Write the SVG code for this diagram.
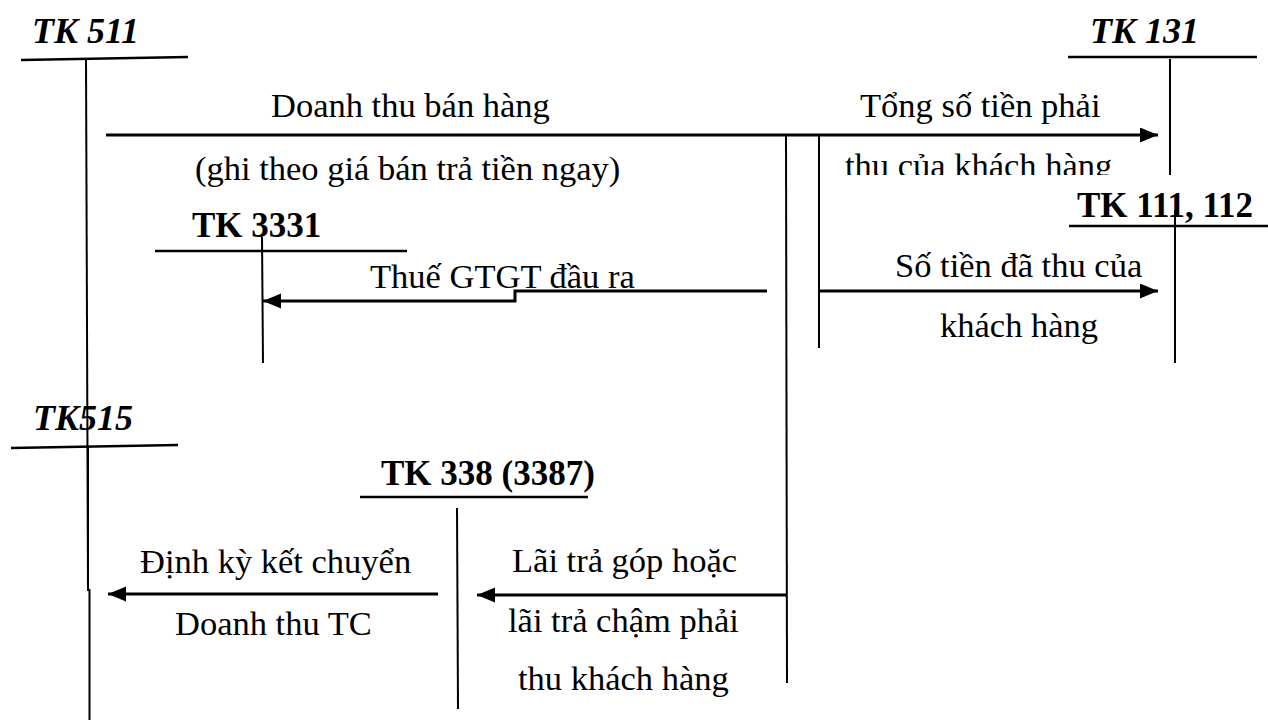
<svg xmlns="http://www.w3.org/2000/svg" width="1268" height="724" viewBox="0 0 1268 724">
<style>
.t{font-family:"Liberation Serif","Times New Roman",serif;font-size:34.5px;fill:#000}
.bi{font-family:"Liberation Serif","Times New Roman",serif;font-size:36px;font-weight:bold;font-style:italic;fill:#000}
.b{font-family:"Liberation Serif","Times New Roman",serif;font-size:35px;font-weight:bold;fill:#000}
.ln{stroke:#000;stroke-width:2.5;fill:none}
.v{stroke:#000;stroke-width:2;fill:none}
.ar{stroke:#000;stroke-width:3;fill:none}
</style>
<defs>
<marker id="ah" markerUnits="userSpaceOnUse" markerWidth="20" markerHeight="16" refX="18" refY="7.5" orient="auto">
<path d="M0,0 L18,7.5 L0,15 z" fill="#000"/>
</marker>
<clipPath id="clip131"><rect x="0" y="0" width="1268" height="175"/></clipPath>
</defs>
<rect width="1268" height="724" fill="#fff"/>

<g id="tk511">
<text class="bi" x="32" y="43">TK 511</text>
<line class="ln" x1="21" y1="60" x2="188" y2="57"/>
<line class="v" x1="86" y1="58" x2="88" y2="590"/>
</g>

<g id="tk131">
<text class="bi" x="1090" y="43">TK 131</text>
<line class="ln" x1="1068" y1="57" x2="1257" y2="57"/>
<line class="v" x1="1170" y1="59" x2="1170" y2="175"/>
</g>

<g id="tk3331">
<text class="b" x="192" y="237">TK 3331</text>
<line class="ln" x1="155" y1="251" x2="407" y2="251"/>
<line class="v" x1="262" y1="237" x2="263" y2="363"/>
</g>

<g id="tk111">
<text class="b" x="1077" y="217">TK 111, 112</text>
<line class="ln" x1="1069" y1="226" x2="1268" y2="226"/>
<line class="v" x1="1175" y1="210" x2="1175" y2="363"/>
</g>

<g id="tk515">
<text class="bi" x="33" y="430">TK515</text>
<line class="ln" x1="11" y1="448" x2="178" y2="445"/>
<path class="v" d="M88,446 V590 H89.5 V720"/>
</g>

<g id="tk338">
<text class="b" x="381" y="485">TK 338 (3387)</text>
<line class="ln" x1="360" y1="497" x2="588" y2="497"/>
<line class="v" x1="457" y1="508" x2="458" y2="709"/>
</g>

<g id="connectors">
<line class="ar" x1="106" y1="135" x2="1158" y2="135" marker-end="url(#ah)"/>
<line class="v" x1="786" y1="135" x2="787" y2="683"/>
<line class="v" x1="819" y1="135" x2="819" y2="348"/>
<line class="ar" x1="819" y1="291" x2="1158" y2="291" marker-end="url(#ah)"/>
<path class="ar" d="M767,291 H515 V301 H263" marker-end="url(#ah)"/>
<line class="ar" x1="787" y1="595" x2="477" y2="595" marker-end="url(#ah)"/>
<line class="ar" x1="438" y1="594" x2="108" y2="594" marker-end="url(#ah)"/>
</g>

<g id="labels">
<text class="t" x="271" y="117">Doanh thu bán hàng</text>
<text class="t" x="195" y="180">(ghi theo giá bán trả tiền ngay)</text>
<text class="t" x="860" y="117">Tổng số tiền phải</text>
<text class="t" x="845" y="177" clip-path="url(#clip131)">thu của khách hàng</text>
<text class="t" x="370" y="288">Thuế GTGT đầu ra</text>
<text class="t" x="895" y="277">Số tiền đã thu của</text>
<text class="t" x="940" y="337">khách hàng</text>
<text class="t" x="140" y="573">Định kỳ kết chuyển</text>
<text class="t" x="175" y="635">Doanh thu TC</text>
<text class="t" x="512" y="572">Lãi trả góp hoặc</text>
<text class="t" x="508" y="632">lãi trả chậm phải</text>
<text class="t" x="518" y="690">thu khách hàng</text>
</g>
</svg>
